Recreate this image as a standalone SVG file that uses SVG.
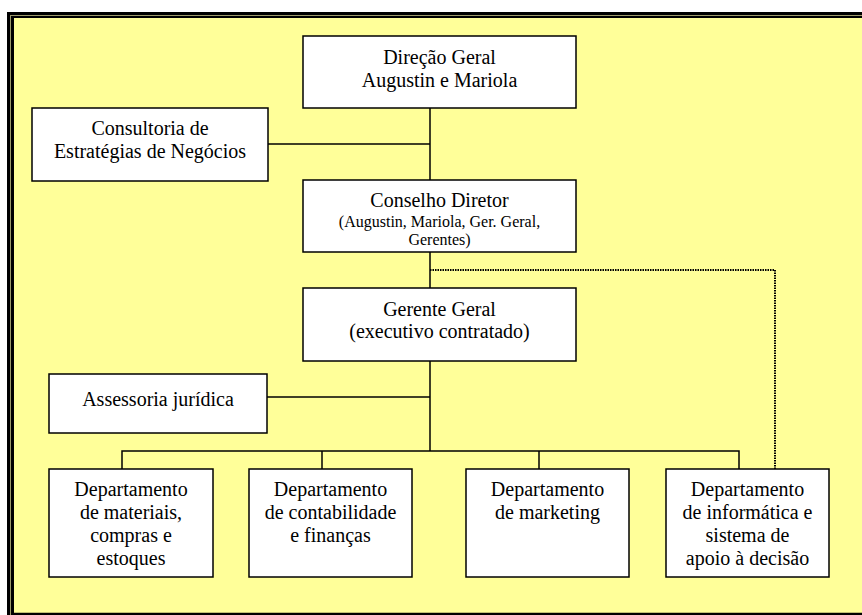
<svg xmlns="http://www.w3.org/2000/svg" width="862" height="615" viewBox="0 0 862 615">
  <style>
    .box { fill: #ffffff; stroke: #000000; stroke-width: 1.5; }
    .conn { fill: none; stroke: #000000; stroke-width: 1.5; }
    .dot { fill: none; stroke: #000000; stroke-width: 2; stroke-dasharray: 1.5 1; }
    .t { font-family: 'Liberation Serif', 'DejaVu Serif', 'Times New Roman', Times, serif; font-size: 20px; fill: #000000; text-anchor: middle; }
    .small { font-size: 16px; }
  </style>

  <!-- page background and double frame -->
  <rect x="0" y="0" width="862" height="615" fill="#ffffff"/>
  <rect x="7" y="12" width="855" height="603" fill="#000000"/>
  <rect x="10" y="15" width="852" height="600" fill="#9c9a6a"/>
  <rect x="11" y="16" width="851" height="599" fill="#000000"/>
  <rect x="14" y="18" width="848" height="595" fill="#ffff99"/>
  <line x1="14" y1="613.5" x2="862" y2="613.5" stroke="#000000" stroke-width="1.5"/>

  <!-- connectors -->
  <g id="connectors">
    <line class="conn" x1="430" y1="108" x2="430" y2="180"/>
    <line class="conn" x1="268" y1="144" x2="430" y2="144"/>
    <line class="conn" x1="430" y1="252" x2="430" y2="288"/>
    <line class="conn" x1="430" y1="361" x2="430" y2="451"/>
    <line class="conn" x1="267" y1="397" x2="430" y2="397"/>
    <path class="conn" d="M122 469 V451 H739 V469"/>
    <line class="conn" x1="322" y1="451" x2="322" y2="469"/>
    <line class="conn" x1="539" y1="451" x2="539" y2="469"/>
    <path class="dot" d="M430 270 H775 V469"/>
  </g>

  <g id="direcao-geral">
    <rect class="box" x="303" y="36" width="273" height="72"/>
    <text class="t" x="439.5" y="64" font-family="Liberation Serif, serif">Direção Geral</text>
    <text class="t" x="439.5" y="87" font-family="Liberation Serif, serif">Augustin e Mariola</text>
  </g>

  <g id="consultoria">
    <rect class="box" x="32" y="108" width="236" height="73"/>
    <text class="t" x="150" y="135">Consultoria de</text>
    <text class="t" x="150" y="158">Estratégias de Negócios</text>
  </g>

  <g id="conselho-diretor">
    <rect class="box" x="303" y="180" width="273" height="72"/>
    <text class="t" x="439.5" y="207">Conselho Diretor</text>
    <text class="t small" x="439.5" y="227">(Augustin, Mariola, Ger. Geral,</text>
    <text class="t small" x="439.5" y="245">Gerentes)</text>
  </g>

  <g id="gerente-geral">
    <rect class="box" x="303" y="288" width="273" height="73"/>
    <text class="t" x="439.5" y="316">Gerente Geral</text>
    <text class="t" x="439.5" y="338">(executivo contratado)</text>
  </g>

  <g id="assessoria">
    <rect class="box" x="49" y="374" width="218" height="59"/>
    <text class="t" x="158" y="406">Assessoria jurídica</text>
  </g>

  <g id="dep-materiais">
    <rect class="box" x="49" y="469" width="164" height="108"/>
    <text class="t" x="131" y="496">Departamento</text>
    <text class="t" x="131" y="519">de materiais,</text>
    <text class="t" x="131" y="542">compras e</text>
    <text class="t" x="131" y="565">estoques</text>
  </g>

  <g id="dep-contabilidade">
    <rect class="box" x="249" y="469" width="163" height="108"/>
    <text class="t" x="330.5" y="496">Departamento</text>
    <text class="t" x="330.5" y="519">de contabilidade</text>
    <text class="t" x="330.5" y="542">e finanças</text>
  </g>

  <g id="dep-marketing">
    <rect class="box" x="466" y="469" width="163" height="108"/>
    <text class="t" x="547.5" y="496">Departamento</text>
    <text class="t" x="547.5" y="519">de marketing</text>
  </g>

  <g id="dep-informatica">
    <rect class="box" x="666" y="469" width="163" height="108"/>
    <text class="t" x="747.5" y="496">Departamento</text>
    <text class="t" x="747.5" y="519">de informática e</text>
    <text class="t" x="747.5" y="542">sistema de</text>
    <text class="t" x="747.5" y="565">apoio à decisão</text>
  </g>
</svg>
